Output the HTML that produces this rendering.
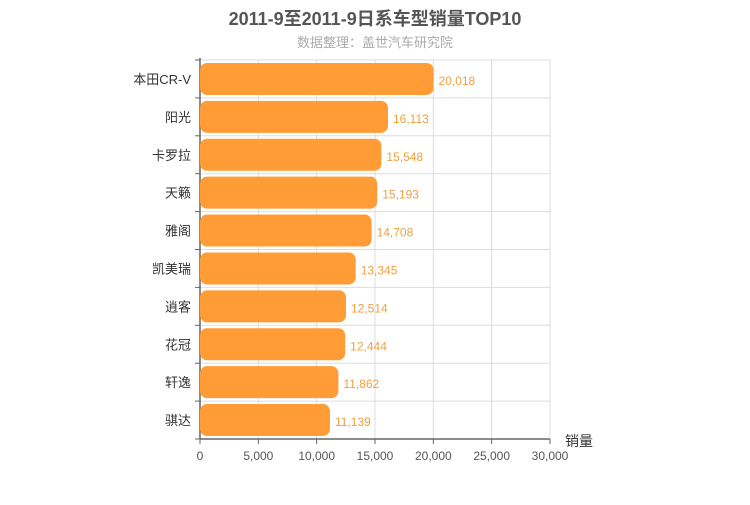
<!DOCTYPE html>
<html><head><meta charset="utf-8"><style>
body{margin:0;background:#fff;}
svg{font-family:"Liberation Sans","Noto Sans CJK SC",sans-serif;}
</style></head><body>
<svg id="c" width="750" height="500">
<text x="375" y="25" text-anchor="middle" font-size="18" font-weight="bold" fill="#555">2011-9至2011-9日系车型销量TOP10</text>
<text x="375" y="47" text-anchor="middle" font-size="13" fill="#aaa">数据整理：盖世汽车研究院</text>
<g id="g"></g>
</svg>
<script>
const categories=["本田CR-V","阳光","卡罗拉","天籁","雅阁","凯美瑞","逍客","花冠","轩逸","骐达"];
const values=[20018,16113,15548,15193,14708,13345,12514,12444,11862,11139];
const ticks=[0,5000,10000,15000,20000,25000,30000];
const tickLabels=["0","5,000","10,000","15,000","20,000","25,000","30,000"];
const X0=200,X1=550,Y0=60,Y1=439,MAX=30000;
const g=document.getElementById('g');const NS="http://www.w3.org/2000/svg";
const x=v=>X0+v/MAX*(X1-X0);
const rowH=(Y1-Y0)/categories.length;
function el(t,a,txt){const e=document.createElementNS(NS,t);for(const k in a)e.setAttribute(k,a[k]);if(txt!=null)e.textContent=txt;g.appendChild(e);return e;}
ticks.forEach((t,i)=>{
 const gl=el('line',{x1:x(t),x2:x(t),y1:Y0,y2:Y1,stroke:'#ddd'});
 
 
 el('line',{x1:x(t),x2:x(t),y1:Y1,y2:Y1+5,stroke:'#666'});
 const tl=el('text',{x:x(t),y:Y1+21,'text-anchor':'middle','font-size':12,fill:'#555'},tickLabels[i]);
 
 
});
for(let i=0;i<=categories.length;i++){
 const yy=Y0+i*rowH;
 el('line',{x1:X0,x2:X1,y1:yy,y2:yy,stroke:'#ddd'});
 el('line',{x1:X0-5,x2:X0,y1:yy,y2:yy,stroke:'#666'});
}
el('line',{x1:X0,x2:X0,y1:Y0-2,y2:Y1,stroke:'#666','stroke-width':1.5});
el('line',{x1:X0,x2:X1,y1:Y1,y2:Y1,stroke:'#666','stroke-width':1.5});
categories.forEach((c,i)=>{
 const cy=Y0+(i+0.5)*rowH;
 const b=el('rect',{x:X0,y:cy-16,width:x(values[i])-X0,height:32,rx:7,fill:'#ff9c35'});
 
 
 const lb=el('text',{x:X0-9,y:cy+5,'text-anchor':'end','font-size':13,fill:'#333'},c);
 
 
 const vl=el('text',{x:x(values[i])+5,y:cy+6,'font-size':12,fill:'#f0a040'},values[i].toLocaleString('en-US'));
 
 
});
const at=el('text',{x:565,y:446,'font-size':14,fill:'#333'},'销量');


</script>
</body></html>
